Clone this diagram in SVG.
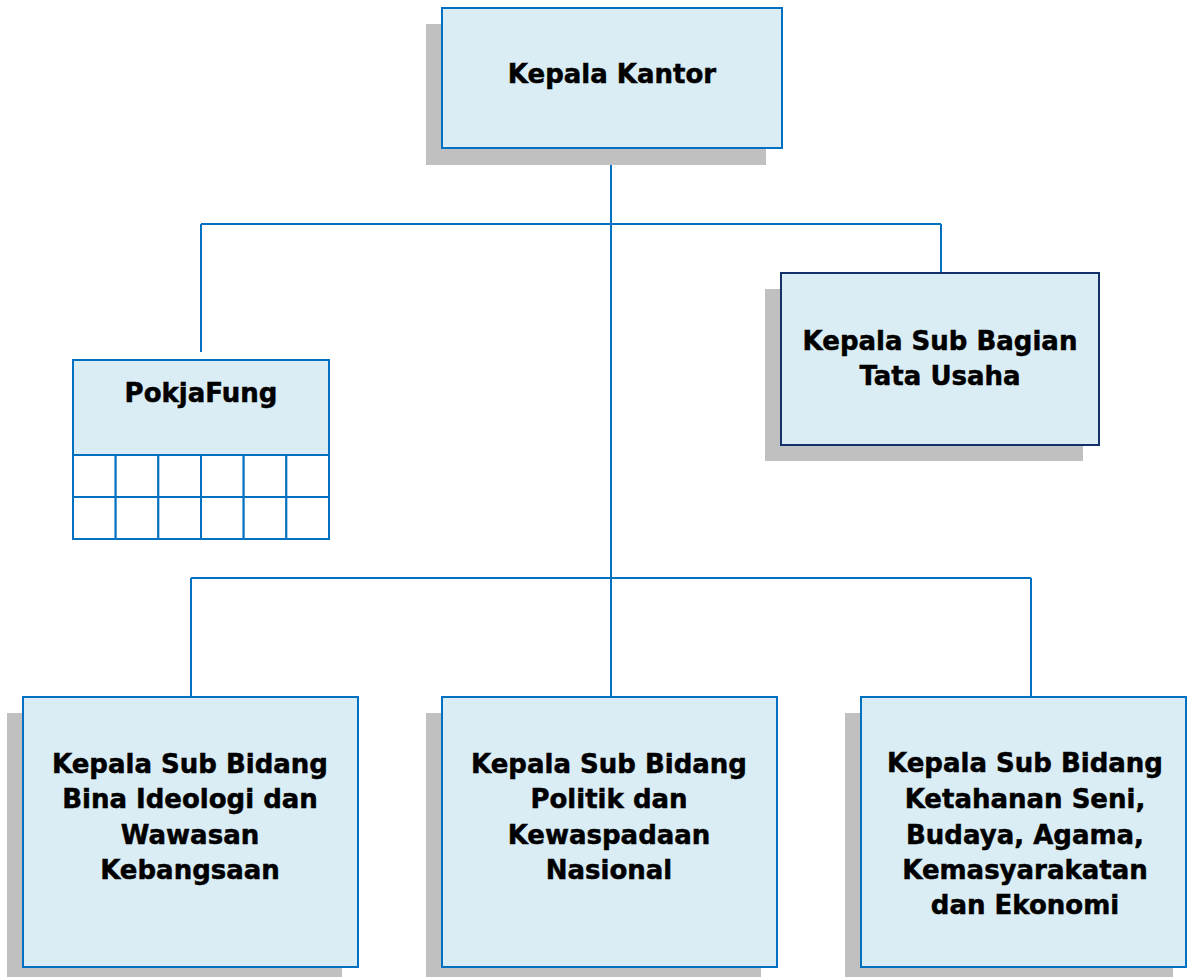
<svg xmlns="http://www.w3.org/2000/svg" width="1187" height="977" viewBox="0 0 1187 977">
<style>
.shadow{fill:#c0c0c0}
.box{fill:#daedf4;stroke:#0070c0;stroke-width:2}
.box2{fill:#daedf4;stroke:#14326a;stroke-width:2}
.cell{fill:#ffffff;stroke:#0070c0;stroke-width:2}
.conn{fill:none;stroke:#0070c0;stroke-width:2}
text{font-family:"DejaVu Sans","Verdana",sans-serif;font-weight:bold;font-size:26px;fill:#000;stroke:#000;stroke-width:0.5;text-anchor:middle}
</style>
<rect width="1187" height="977" fill="#ffffff"/>
<g id="connectors">
<path class="conn" d="M611 161V697"/>
<path class="conn" d="M201 224H941M201 224V352M941 224V273"/>
<path class="conn" d="M191 578H1031M191 578V701M1031 578V701"/>
</g>
<g id="kepala-kantor">
<rect class="shadow" x="426" y="24" width="340" height="141"/>
<rect class="box" x="442" y="8" width="340" height="140"/>
<text x="612" y="83">Kepala Kantor</text>
</g>
<g id="pokjafung">
<rect class="box" x="73" y="360" width="256" height="95"/>
<text x="201" y="402">PokjaFung</text>
<g>
<rect class="cell" x="73" y="455" width="42.67" height="42"/>
<rect class="cell" x="115.67" y="455" width="42.67" height="42"/>
<rect class="cell" x="158.33" y="455" width="42.67" height="42"/>
<rect class="cell" x="201" y="455" width="42.67" height="42"/>
<rect class="cell" x="243.67" y="455" width="42.67" height="42"/>
<rect class="cell" x="286.33" y="455" width="42.67" height="42"/>
<rect class="cell" x="73" y="497" width="42.67" height="42"/>
<rect class="cell" x="115.67" y="497" width="42.67" height="42"/>
<rect class="cell" x="158.33" y="497" width="42.67" height="42"/>
<rect class="cell" x="201" y="497" width="42.67" height="42"/>
<rect class="cell" x="243.67" y="497" width="42.67" height="42"/>
<rect class="cell" x="286.33" y="497" width="42.67" height="42"/>
</g>
</g>
<g id="kasubbag-tu">
<rect class="shadow" x="765" y="289" width="318" height="172"/>
<rect class="box2" x="781" y="273" width="318" height="172"/>
<text x="940" y="350">Kepala Sub Bagian</text>
<text x="940" y="385">Tata Usaha</text>
</g>
<g id="kasubbid-bina">
<rect class="shadow" x="7" y="713" width="335" height="271"/>
<rect class="box" x="23" y="697" width="335" height="270"/>
<text x="190" y="773">Kepala Sub Bidang</text>
<text x="190" y="808">Bina Ideologi dan</text>
<text x="190" y="844">Wawasan</text>
<text x="190" y="879">Kebangsaan</text>
</g>
<g id="kasubbid-politik">
<rect class="shadow" x="426" y="713" width="335" height="271"/>
<rect class="box" x="442" y="697" width="335" height="270"/>
<text x="609" y="773">Kepala Sub Bidang</text>
<text x="609" y="808">Politik dan</text>
<text x="609" y="844">Kewaspadaan</text>
<text x="609" y="879">Nasional</text>
</g>
<g id="kasubbid-ketahanan">
<rect class="shadow" x="845" y="713" width="328" height="271"/>
<rect class="box" x="861" y="697" width="325" height="270"/>
<text x="1025" y="772">Kepala Sub Bidang</text>
<text x="1025" y="808">Ketahanan Seni,</text>
<text x="1025" y="844">Budaya, Agama,</text>
<text x="1025" y="879">Kemasyarakatan</text>
<text x="1025" y="914">dan Ekonomi</text>
</g>
</svg>
